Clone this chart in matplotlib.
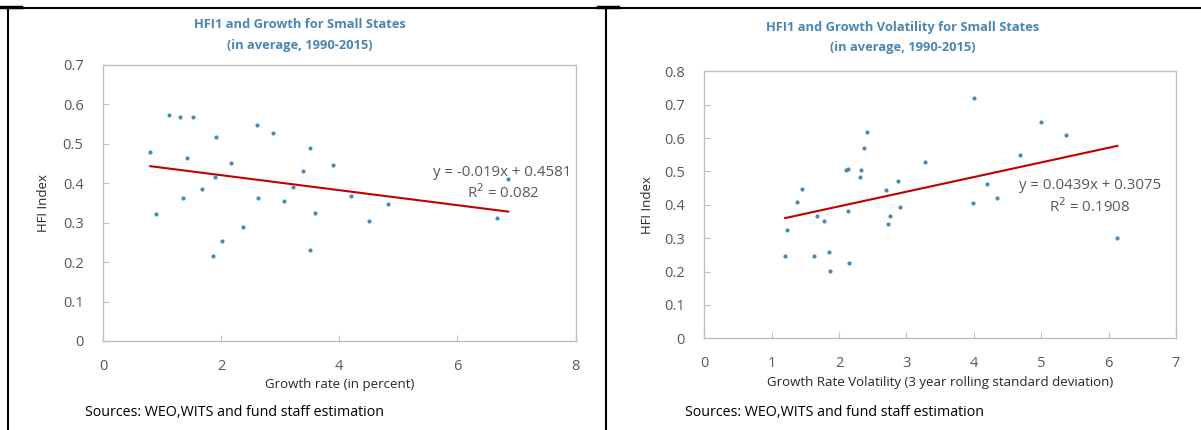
import matplotlib.pyplot as plt
import numpy as np

plt.rcParams['font.family'] = ['Open Sans', 'DejaVu Sans']

# left panel: growth rate vs HFI1
growth = [0.80, 0.89, 1.12, 1.31, 1.52, 1.42, 1.35, 1.67, 1.92, 1.89,
          2.17, 2.02, 1.86, 2.37, 2.60, 2.63, 2.88, 3.06, 3.22, 3.38,
          3.50, 3.59, 3.51, 3.89, 4.20, 4.50, 4.83, 6.67, 6.86]
hfi_g = [0.478, 0.322, 0.573, 0.568, 0.568, 0.464, 0.363, 0.384, 0.517, 0.416,
         0.450, 0.254, 0.216, 0.290, 0.547, 0.363, 0.527, 0.354, 0.389, 0.430,
         0.489, 0.324, 0.231, 0.446, 0.367, 0.303, 0.348, 0.312, 0.411]

# right panel: growth volatility vs HFI1
vol = [1.20, 1.23, 1.38, 1.45, 1.67, 1.63, 1.78, 1.85, 1.86, 2.10,
       2.13, 2.13, 2.15, 2.31, 2.32, 2.37, 2.41, 2.69, 2.72, 2.75,
       2.87, 2.90, 3.27, 4.00, 3.99, 4.19, 4.35, 4.68, 5.00, 5.37, 6.13]
hfi_v = [0.248, 0.325, 0.407, 0.448, 0.367, 0.246, 0.352, 0.258, 0.202, 0.504,
         0.507, 0.380, 0.227, 0.482, 0.505, 0.570, 0.617, 0.445, 0.342, 0.365,
         0.471, 0.392, 0.528, 0.721, 0.405, 0.463, 0.419, 0.549, 0.648, 0.610, 0.302]

# trendline coefficients as printed on the chart
fit_g = (-0.019, 0.4581)
fit_v = (0.0439, 0.3075)

W, H = 1201, 430
fig = plt.figure(figsize=(W / 100, H / 100), dpi=100)

blue = '#4A8AB5'
red = '#C00000'
grey = '#595959'
spine = '#BFBFBF'
title_c = '#4A86B4'


def px(x, y):
    return x / W, 1 - y / H


def setup(ax, xmax, xstep, ymax):
    ax.set_xlim(0, xmax)
    ax.set_ylim(0, ymax)
    ax.set_xticks(np.arange(0, xmax + 0.01, xstep))
    ax.set_yticks(np.round(np.arange(0, ymax + 0.001, 0.1), 1))
    ax.set_yticklabels(['0'] + ['%.1f' % v for v in np.arange(0.1, ymax + 0.001, 0.1)])
    ax.set_xticklabels(['%d' % v for v in np.arange(0, xmax + 0.01, xstep)])
    for s in ax.spines.values():
        s.set_color(spine)
        s.set_linewidth(1)
    ax.tick_params(direction='in', length=4, color=spine, labelcolor=grey,
                   labelsize=10.5, pad=14)
    ax.tick_params(axis='x', pad=13)


# left chart
ax1 = fig.add_axes([103 / W, 1 - 341 / H, 472.5 / W, 276.3 / H])
setup(ax1, 8, 2, 0.7)
ax1.scatter(growth, hfi_g, s=9, color=blue, zorder=3, linewidths=0)
xs = np.array([min(growth), max(growth)])
ax1.plot(xs, fit_g[0] * xs + fit_g[1], color=red, lw=1.5, zorder=2)
ax1.set_xlabel('Growth rate (in percent)', color='#262626', fontsize=9.5, labelpad=3)
ax1.set_ylabel('HFI Index', color='#262626', fontsize=9.5, labelpad=9)
fig.text(*px(502, 173), 'y = -0.019x + 0.4581', ha='center', va='center',
         color=grey, fontsize=10.8)
fig.text(*px(503, 193), 'R$^2$ = 0.082', ha='center', va='center',
         color=grey, fontsize=10.8)
fig.text(*px(300, 24), 'HFI1 and Growth for Small States', ha='center', va='center',
         color=title_c, fontsize=9.3, fontweight='bold')
fig.text(*px(300, 45), '(in average, 1990-2015)', ha='center', va='center',
         color=title_c, fontsize=9.3, fontweight='bold')
fig.text(*px(85, 413), 'Sources: WEO,WITS and fund staff estimation', ha='left',
         va='center', color='black', fontsize=10.3)

# right chart
ax2 = fig.add_axes([704.3 / W, 1 - 338.3 / H, 471.7 / W, 267 / H])
setup(ax2, 7, 1, 0.8)
ax2.scatter(vol, hfi_v, s=9, color=blue, zorder=3, linewidths=0)
xs = np.array([min(vol), max(vol)])
ax2.plot(xs, fit_v[0] * xs + fit_v[1], color=red, lw=1.5, zorder=2)
ax2.set_xlabel('Growth Rate Volatility (3 year rolling standard deviation)',
               color='#262626', fontsize=9.5, labelpad=3)
ax2.set_ylabel('HFI Index', color='#262626', fontsize=9.5, labelpad=7)
fig.text(*px(1090, 186), 'y = 0.0439x + 0.3075', ha='center', va='center',
         color=grey, fontsize=10.8)
fig.text(*px(1090, 207), 'R$^2$ = 0.1908', ha='center', va='center',
         color=grey, fontsize=10.8)
fig.text(*px(903, 27), 'HFI1 and Growth Volatility for Small States', ha='center',
         va='center', color=title_c, fontsize=9.3, fontweight='bold')
fig.text(*px(903, 48), '(in average, 1990-2015)', ha='center', va='center',
         color=title_c, fontsize=9.3, fontweight='bold')
fig.text(*px(685, 413), 'Sources: WEO,WITS and fund staff estimation', ha='left',
         va='center', color='black', fontsize=10.3)

# panel frames
frame = dict(color='black', lw=1.5, transform=fig.transFigure)
fig.add_artist(plt.Line2D([8 / W, 8 / W], [0, 1 - 8 / H], **frame))
fig.add_artist(plt.Line2D([606 / W, 606 / W], [0, 1 - 8 / H], **frame))
fig.add_artist(plt.Line2D([8 / W, 1], [1 - 8 / H, 1 - 8 / H], **frame))
fig.add_artist(plt.Line2D([0, 21 / W], [1 - 7 / H, 1 - 7 / H], color='black', lw=2.5,
                          transform=fig.transFigure))
fig.add_artist(plt.Line2D([598 / W, 618 / W], [1 - 7 / H, 1 - 7 / H], color='black',
                          lw=2.5, transform=fig.transFigure))

fig.savefig('out.png', dpi=100)
